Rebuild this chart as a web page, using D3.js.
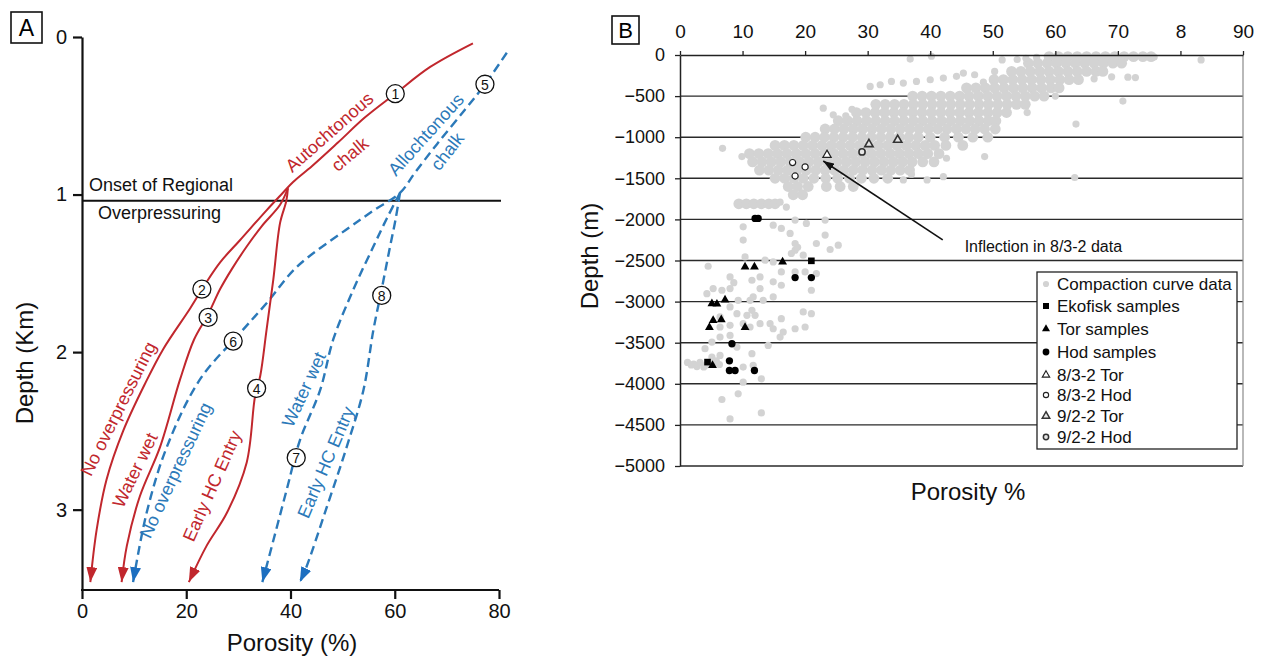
<!DOCTYPE html>
<html><head><meta charset="utf-8">
<script src="https://cdn.jsdelivr.net/npm/d3@7"></script>
<style>body{margin:0;background:#fff}svg{font-family:"Liberation Sans",Arial,sans-serif}</style>
</head><body>
<svg id="c" width="1268" height="657"></svg>
<script>
// ================= DATA =================
// Panel A
const depthTicksA = [0, 1, 2, 3];
const porosityTicksA = [0, 20, 40, 60, 80];
const onsetDepth = 1.04;
const onsetText = ["Onset of Regional", "Overpressuring"];
// curves: [porosity %, depth km]
const redNoOverpressuring = [[75.0,0.04],[66.8,0.19],[60.1,0.36],[54.3,0.51],[49.1,0.67],[44.1,0.82],[40.5,0.92],[38.5,0.99],[35.4,1.10],[30.3,1.29],[26.5,1.43],[23.6,1.57],[20.8,1.72],[15.6,1.98],[12.1,2.20],[7.9,2.50],[4.7,2.81],[2.8,3.13],[1.6,3.46]];
const redWaterWet = [[39.5,0.96],[38.0,1.065],[34.5,1.20],[31.6,1.33],[28.8,1.47],[26.5,1.60],[24.2,1.76],[21.5,1.92],[18.8,2.175],[15.0,2.60],[11.1,2.915],[8.6,3.23],[7.6,3.46]];
const redEarlyHC = [[39.5,0.96],[39.2,1.04],[38.0,1.18],[36.7,1.54],[35.4,1.86],[34.2,2.15],[33.2,2.28],[31.6,2.70],[27.8,3.02],[23.9,3.23],[20.5,3.46]];
const blueNoOverpressuring = [[81.5,0.10],[77.1,0.31],[73.5,0.46],[68.1,0.68],[63.9,0.86],[61.0,0.99],[56.0,1.10],[50.8,1.22],[41.2,1.46],[35.4,1.69],[30.3,1.88],[22.6,2.175],[16.3,2.60],[12.4,3.02],[9.8,3.46]];
const blueWaterWet = [[61.0,0.99],[58.5,1.15],[55.9,1.33],[52.1,1.60],[48.2,1.92],[45.7,2.24],[41.8,2.56],[39.3,2.87],[35.4,3.36],[34.6,3.46]];
const blueEarlyHC = [[61.0,0.99],[60.2,1.15],[59.1,1.33],[57.5,1.60],[55.9,1.86],[54.0,2.24],[50.8,2.60],[47.0,2.98],[43.1,3.36],[41.8,3.46]];
const curveLabelsA = ["Autochtonous","chalk","Allochtonous","chalk","No overpressuring","Water wet","No overpressuring","Early HC Entry","Water wet","Early HC Entry"];
const numberLabels = ["1","2","3","4","5","6","7","8"];
const numberPositions = [[60.1,0.36],[23.0,1.60],[24.2,1.78],[33.5,2.23],[77.3,0.30],[29.0,1.93],[41.1,2.67],[57.5,1.64]];

// Panel B
const porosityTicksB = [0,10,20,30,40,50,60,70,80,90];
const porosityTickLabelsB = ["0","10","20","30","40","50","60","70","8","90"];
const depthTicksB = [0,-500,-1000,-1500,-2000,-2500,-3000,-3500,-4000,-4500,-5000];
// compaction curve data, dense band rows: [depth m, [porosity %...]]
const compactionRows = [
 [-20,[59,60.5,62,63.5,65,66.5,68,69.5,71,72.5,74,75.3]],
 [-100,[55.7,57.2,58.7,60.2,61.7,63.2,64.7,66.2,67.7,69.2,70.6]],
 [-200,[53,54.5,56,57.5,59,60.5,62,63.5,65,66.5,67.6]],
 [-300,[50.2,51.7,53.2,54.7,56.2,57.7,59.2,60.7,62.2,63.7]],
 [-400,[45.8,47.3,48.8,50.3,51.8,53.3,54.8,56.3,57.8,59.3,60.6]],
 [-500,[37.2,38.7,40.2,41.7,43.2,44.7,46.2,47.7,49.2,50.7,52.2,53.7,55.2,56.7,58.2]],
 [-600,[31.3,32.8,34.3,35.8,37.3,38.8,40.3,41.8,43.3,44.8,46.3,47.8,49.3,50.8,52.3,53.8,55.2]],
 [-700,[28.2,29.7,31.2,32.7,34.2,35.7,37.2,38.7,40.2,41.7,43.2,44.7,46.2,47.7,49.2,50.7,52.2]],
 [-800,[25.3,26.8,28.3,29.8,31.3,32.8,34.3,35.8,37.3,38.8,40.3,41.8,43.3,44.8,46.3,47.8,49.3,50.5]],
 [-900,[23.2,24.7,26.2,27.7,29.2,30.7,32.2,33.7,35.2,36.7,38.2,39.7,41.2,42.7,44.2,45.7,47.2,48.7,50.4]],
 [-1000,[20.1,21.6,23.1,24.6,26.1,27.6,29.1,30.6,32.1,33.6,35.1,36.6,38.1,40,42.3,44.5,46.8,49.2]],
 [-1100,[15.2,16.7,18.2,19.7,21.2,22.7,24.2,25.7,27.2,28.7,30.2,31.7,33.2,34.7,36.2,37.7,39.2,40.7,42.5,45.2]],
 [-1200,[11.1,12.6,14.1,15.6,17.1,18.6,20.1,21.6,23.1,24.6,26.1,27.6,29.1,30.6,32.1,33.6,35.1,36.6,38.1,39.6,41.4]],
 [-1300,[11.6,13.1,14.6,16.1,17.6,19.1,20.6,22.1,23.6,25.1,26.6,28.1,29.6,31.1,32.6,34.1,35.6,37.1,38.8,40.6]],
 [-1400,[12.7,14.2,15.7,17.2,18.7,20.2,21.7,23.2,24.7,26.2,27.7,29.2,30.7,32.2,33.7,35.2,36.7]],
 [-1500,[15.2,16.7,18.2,19.7,21.4,23.3,25.2,27.1,29,31,33.2]],
 [-1600,[17.3,18.8,20.5,23.4,25.6,27.7]],
 [-1700,[18.1,19.6]],
 [-1810,[9.4,10.6,11.8,13,14.2,15.2]]
];
// scattered compaction points: [porosity %, depth m]
const compactionScatter = [
 [36.8,-50],[40.2,-15],[51.5,-60],[53.9,-55],[55.3,-40],[57,-30],[75.8,-25],[83.3,-60],
 [69,-265],[71.6,-270],[72.8,-275],[66.2,-290],[70.8,-560],[63.3,-840],[55.5,-700],[60,-500],
 [30.4,-382],[32,-362],[33.8,-321],[35.7,-342],[37.8,-321],[40,-301],[42.1,-281],[44.2,-260],[45.3,-220],[47.1,-240],[50.3,-200],[48.5,-330],
 [22.9,-647],[24.5,-728],[26.5,-740],[27.5,-660],
 [6.8,-1135],[9.9,-1236],[48.7,-1236],[42.6,-1256],[42.1,-1480],[39.5,-1520],[35.7,-1520],[63.1,-1490],[37,-1450],
 [16,-1790],[17,-1850],
 [10.1,-2090],[10.1,-2252],[14.9,-2070],[16.2,-2110],[17.6,-2171],[18.4,-2008],[20.2,-2049],[23.2,-2008],[23.2,-2191],[21.8,-2293],[24,-2366],[25.3,-2313],
 [18.4,-2293],[18.4,-2374],[17.8,-2415],[19.7,-2435],[18.8,-2340],[10.4,-2456],[13.6,-2496],[14.9,-2517],[4.5,-2570],[8,-2700],[8,-2842],[6.7,-2862],[8.6,-2770],
 [12.8,-2700],[12.8,-2842],[14.9,-2760],[16.2,-2639],[16.2,-2801],[18.4,-2639],[20,-2639],[21.8,-2659],[21,-2862],[11.5,-2740],
 [11.2,-2984],[11.7,-2943],[13.3,-2984],[14.9,-2943],[9.3,-2984],[8,-3065],[9.1,-3147],[10.7,-3167],[12,-3167],[11.5,-3106],
 [12.8,-3269],[10.1,-3269],[8,-3289],[11.2,-3309],[14.4,-3269],[16.2,-3208],[14.9,-3330],[16.5,-3370],[16,-3431],[18.4,-3330],[20,-3309],[19.7,-3126],[21,-3147],
 [14.1,-3533],[4.3,-2903],[5.3,-2842],[4,-3573],[5.1,-3675],[6.4,-3655],[8,-3411],[6.4,-3431],[5.1,-3492],[6.4,-3309],[6.4,-3187],[9.1,-3553],
 [11.5,-3634],[10.1,-3797],[11.7,-3777],[13,-3939],[10.1,-3980],[9.3,-4122],[6.7,-4191],[8,-4427],[13,-4354],
 [1.2,-3740],[2.2,-3760],[3.2,-3740],[4.2,-3770],[5.3,-3745],[6.3,-3765],[2.7,-3790],[3.8,-3795],[1.8,-3770],[5.8,-3720]
];
const ekofiskSamples = [[21,-2504],[4.4,-3736]];
const torSamples = [[10.4,-2578],[11.9,-2578],[16.4,-2517],[5.1,-3025],[5.9,-3030],[7.2,-2980],[5.3,-3228],[6.6,-3220],[4.7,-3313],[10.4,-3313],[5.2,-3777]];
const hodSamples = [[12,-1988],[12.5,-1988],[18.4,-2708],[21,-2708],[8.3,-3513],[7.9,-3720],[7.9,-3838],[8.8,-3838],[11.9,-3838]];
const tor832 = [[23.5,-1216]];
const hod832 = [[18,-1309],[20,-1362],[18.4,-1472]];
const tor922 = [[30.2,-1086],[34.8,-1033]];
const hod922 = [[29.1,-1179]];
const legendLabels = ["Compaction curve data","Ekofisk samples","Tor samples","Hod samples","8/3-2 Tor","8/3-2 Hod","9/2-2 Tor","9/2-2 Hod"];
const annotationText = "Inflection in 8/3-2 data";
const annotationFrom = [42.0,-2250];
const annotationTo = [22.9,-1290];

// ================= DRAWING =================
const svg = d3.select("#c");
const RED = "#c1272d", BLUE = "#2b79b9", BLUE_ARROW = "#1d6fc0";
const GRAY = "#d3d3d3";
const defs = svg.append("defs");
function arrowMarker(id, color, len, wid){
  defs.append("marker").attr("id", id).attr("markerUnits","userSpaceOnUse")
    .attr("viewBox", `0 ${-wid/2} ${len} ${wid}`).attr("refX", len).attr("refY", 0)
    .attr("markerWidth", len).attr("markerHeight", wid).attr("orient","auto")
    .append("path").attr("d", `M0,${-wid/2}L${len},0L0,${wid/2}Z`).attr("fill", color);
}
arrowMarker("arRed", RED, 15, 11);
arrowMarker("arBlue", BLUE_ARROW, 15, 11);
arrowMarker("arBlack", "#111", 11, 8);

// ---------- Panel A ----------
const xA = d3.scaleLinear().domain([0,80]).range([82,499]);
const yA = d3.scaleLinear().domain([0,3.51]).range([37,590]);
const gA = svg.append("g");

gA.append("rect").attr("x",11).attr("y",12).attr("width",31).attr("height",31).attr("fill","none").attr("stroke","#111").attr("stroke-width",1.6);
gA.append("text").attr("x",26.5).attr("y",36).attr("text-anchor","middle").attr("font-size",23).text("A");

const axL = gA.append("g").attr("transform","translate(82,0)")
  .call(d3.axisLeft(yA).tickValues(depthTicksA).tickSize(9).tickSizeOuter(0).tickFormat(d3.format("d")));
const axB = gA.append("g").attr("transform","translate(0,590)")
  .call(d3.axisBottom(xA).tickValues(porosityTicksA).tickSize(9).tickSizeOuter(0).tickFormat(d3.format("d")));
[axL, axB].forEach(a=>{
  a.select(".domain").attr("stroke","#111").attr("stroke-width",2.2);
  a.selectAll(".tick line").attr("stroke","#111").attr("stroke-width",2.2);
  a.selectAll(".tick text").attr("font-size",20).attr("font-family",'"Liberation Sans",Arial,sans-serif').attr("fill","#111");
});
axL.selectAll(".tick text").attr("x",-15);
axB.selectAll(".tick text").attr("y",14);
axB.select(".domain").attr("d", `M${xA(0)-1},0H${xA(80)}`);

gA.append("line").attr("x1",xA(0)).attr("x2",xA(80)+2).attr("y1",yA(onsetDepth)).attr("y2",yA(onsetDepth)).attr("stroke","#111").attr("stroke-width",2);
gA.append("text").attr("x",89).attr("y",191).attr("font-size",18).attr("fill","#111").text(onsetText[0]);
gA.append("text").attr("x",98).attr("y",219).attr("font-size",18).attr("fill","#111").text(onsetText[1]);

const lineA = d3.line().x(d=>xA(d[0])).y(d=>yA(d[1])).curve(d3.curveCatmullRom.alpha(0.5));
function drawCurve(data, color, dashed, marker){
  gA.append("path").attr("d", lineA(data)).attr("fill","none").attr("stroke",color)
    .attr("stroke-width", dashed?2.4:2).attr("stroke-dasharray", dashed?"9,5":null)
    .attr("marker-end", `url(#${marker})`);
}
drawCurve(blueNoOverpressuring, BLUE, true, "arBlue");
drawCurve(blueWaterWet, BLUE, true, "arBlue");
drawCurve(blueEarlyHC, BLUE, true, "arBlue");
drawCurve(redNoOverpressuring, RED, false, "arRed");
drawCurve(redWaterWet, RED, false, "arRed");
drawCurve(redEarlyHC, RED, false, "arRed");

const labelLayout = [
  [47.5,0.605,-41.5,RED],[51.4,0.745,-40,RED],[66.0,0.62,-48,BLUE],[70.1,0.727,-52,BLUE],
  [7.0,2.36,-63.5,RED],[10.2,2.75,-64,RED],[18.0,2.75,-65,BLUE],[25.0,2.85,-66,RED],[42.6,2.238,-65,BLUE],[46.8,2.70,-67,BLUE]
];
curveLabelsA.forEach((t,i)=>{
  const [p,d,a,c] = labelLayout[i];
  gA.append("text").attr("transform",`translate(${xA(p)},${yA(d)}) rotate(${a})`)
    .attr("text-anchor","middle").attr("dominant-baseline","central")
    .attr("font-size",18).attr("fill",c).text(t);
});

numberLabels.forEach((t,i)=>{
  const [p,d] = numberPositions[i];
  const g = gA.append("g").attr("transform",`translate(${xA(p)},${yA(d)})`);
  g.append("circle").attr("r",9).attr("fill","#fff").attr("stroke","#111").attr("stroke-width",1.3);
  g.append("text").attr("text-anchor","middle").attr("dominant-baseline","central").attr("y",0.5).attr("font-size",14).attr("fill","#111").text(t);
});

gA.append("text").attr("transform","translate(33,363) rotate(-90)").attr("text-anchor","middle").attr("font-size",24).attr("fill","#111").text("Depth (Km)");
gA.append("text").attr("x",292).attr("y",651).attr("text-anchor","middle").attr("font-size",24).attr("fill","#111").text("Porosity (%)");

// ---------- Panel B ----------
const xB = d3.scaleLinear().domain([0,90]).range([680,1243]);
const yB = d3.scaleLinear().domain([0,-5000]).range([55,466]);
const gB = svg.append("g");

gB.append("rect").attr("x",612).attr("y",16).attr("width",27).attr("height",28).attr("fill","none").attr("stroke","#111").attr("stroke-width",1.6);
gB.append("text").attr("x",625.5).attr("y",38).attr("text-anchor","middle").attr("font-size",22).text("B");

gB.selectAll("line.grid").data(depthTicksB.filter(d=>d!==0)).join("line").attr("class","grid")
  .attr("x1",xB(0)).attr("x2",xB(90)).attr("y1",d=>yB(d)).attr("y2",d=>yB(d))
  .attr("stroke","#2a2a2a").attr("stroke-width",1.4);
gB.append("line").attr("x1",xB(90)).attr("x2",xB(90)).attr("y1",yB(0)).attr("y2",yB(-5000)).attr("stroke","#8a8a8a").attr("stroke-width",1.2);

const bandPoints = compactionRows.flatMap(([d,ps])=>ps.map(p=>[p,d]));
gB.append("g").selectAll("circle").data(bandPoints).join("circle")
  .attr("cx",d=>xB(d[0])).attr("cy",d=>yB(d[1])).attr("r",5.4).attr("fill",GRAY);
gB.append("g").selectAll("circle").data(compactionScatter).join("circle")
  .attr("cx",d=>xB(d[0])).attr("cy",d=>yB(d[1])).attr("r",3.6).attr("fill",GRAY);

const axTop = gB.append("g").attr("transform",`translate(0,${yB(0)})`)
  .call(d3.axisTop(xB).tickValues(porosityTicksB).tickSize(4).tickSizeOuter(0).tickFormat((d,i)=>porosityTickLabelsB[i]));
const axLeftB = gB.append("g").attr("transform",`translate(${xB(0)},0)`)
  .call(d3.axisLeft(yB).tickValues(depthTicksB).tickSize(5).tickSizeOuter(0).tickFormat(d3.format("d")));
[axTop, axLeftB].forEach(a=>{
  a.select(".domain").attr("stroke","#222").attr("stroke-width",1.5);
  a.selectAll(".tick line").attr("stroke","#222").attr("stroke-width",1.3);
  a.selectAll(".tick text").attr("font-size",19).attr("font-family",'"Liberation Sans",Arial,sans-serif').attr("fill","#111");
});
axTop.selectAll(".tick text").attr("y",-17);
axLeftB.selectAll(".tick text").attr("x",-15).attr("font-size",18);

const sym = (type,size)=>d3.symbol().type(type).size(size)();
function drawSymbols(data, shape, fill, stroke, sw){
  gB.append("g").selectAll("path").data(data).join("path")
    .attr("transform",d=>`translate(${xB(d[0])},${yB(d[1])})`)
    .attr("d",shape).attr("fill",fill).attr("stroke",stroke).attr("stroke-width",sw);
}
const triFilled = sym(d3.symbolTriangle,34), triOpen = sym(d3.symbolTriangle,30);
const sqShape = sym(d3.symbolSquare,44), circFilled = sym(d3.symbolCircle,42), circOpen = sym(d3.symbolCircle,30);
drawSymbols(ekofiskSamples, sqShape, "#000", "none", 0);
drawSymbols(torSamples, triFilled, "#000", "none", 0);
drawSymbols(hodSamples, circFilled, "#000", "none", 0);
drawSymbols(tor832, triOpen, "#fff", "#222", 1.2);
drawSymbols(hod832, circOpen, "#fff", "#222", 1.2);
drawSymbols(tor922, triOpen, "#e6e6e6", "#333", 1.6);
drawSymbols(hod922, circOpen, "#e6e6e6", "#333", 1.6);

gB.append("line").attr("x1",xB(annotationFrom[0])).attr("y1",yB(annotationFrom[1]))
  .attr("x2",xB(annotationTo[0])).attr("y2",yB(annotationTo[1]))
  .attr("stroke","#111").attr("stroke-width",1.6).attr("marker-end","url(#arBlack)");
gB.append("text").attr("x",xB(45.5)).attr("y",yB(-2400)).attr("font-size",16).attr("fill","#111").text(annotationText);

const lg = gB.append("g");
lg.append("rect").attr("x",1037).attr("y",272).attr("width",200).attr("height",177).attr("fill","#fff").attr("stroke","#222").attr("stroke-width",1.3);
const legendShapes = [
  [circOpen,GRAY,"none",0],[sym(d3.symbolSquare,36),"#000","none",0],[sym(d3.symbolTriangle,28),"#000","none",0],[sym(d3.symbolCircle,36),"#000","none",0],
  [sym(d3.symbolTriangle,24),"#fff","#222",1.1],[sym(d3.symbolCircle,22),"#fff","#222",1.1],[sym(d3.symbolTriangle,24),"#e6e6e6","#333",1.5],[sym(d3.symbolCircle,22),"#e6e6e6","#333",1.5]
];
const legendY = [284,306,329,352,375,395,416,437];
legendLabels.forEach((t,i)=>{
  const [s,f,st,sw] = legendShapes[i];
  lg.append("path").attr("transform",`translate(1046,${legendY[i]})`).attr("d",s).attr("fill",f).attr("stroke",st).attr("stroke-width",sw);
  lg.append("text").attr("x",1057).attr("y",legendY[i]).attr("dominant-baseline","central").attr("font-size",17).attr("fill","#111").text(t);
});

gB.append("text").attr("transform","translate(598,256) rotate(-90)").attr("text-anchor","middle").attr("font-size",24).attr("fill","#111").text("Depth (m)");
gB.append("text").attr("x",968).attr("y",500).attr("text-anchor","middle").attr("font-size",24).attr("fill","#111").text("Porosity %");
</script>
</body></html>
